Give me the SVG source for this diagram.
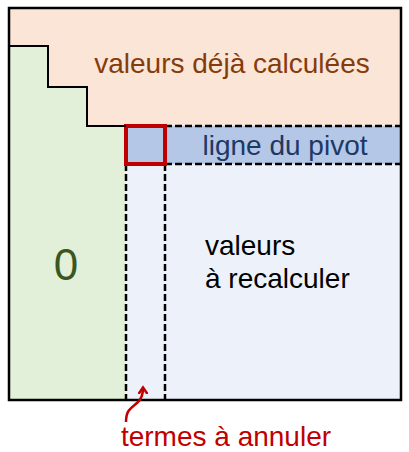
<svg xmlns="http://www.w3.org/2000/svg" width="409" height="452" viewBox="0 0 409 452">
<style>
text{font-family:"Liberation Sans",Arial,sans-serif;}
.dash{fill:none;stroke:#000;stroke-width:2.5;stroke-dasharray:7,3;}
</style>
<defs>
<marker id="ah" markerWidth="10" markerHeight="10" refX="6" refY="5" orient="auto" markerUnits="userSpaceOnUse">
<path d="M0,0.5 L6.5,5 L0,9.5" fill="none" stroke="#c00000" stroke-width="2.5"/>
</marker>
</defs>
<rect width="409" height="452" fill="#fff"/>
<g id="computed">
<path d="M9,8 H401 V126 H87 V87 H48 V46 H9 Z" fill="#fbe5d6"/>
<text x="232" y="73" font-size="28" fill="#843c0c" text-anchor="middle">valeurs déjà calculées</text>
</g>
<g id="zero">
<path d="M9,46 H48 V87 H87 V126 H126 V400 H9 Z" fill="#e2efd9"/>
<text x="66" y="280" font-size="44" fill="#385723" text-anchor="middle">0</text>
</g>
<g id="recalc">
<rect x="126" y="164" width="275" height="236" fill="#edf1f9"/>
<text x="205" y="255" font-size="28" fill="#000">valeurs</text>
<text x="205" y="288" font-size="28" fill="#000">à recalculer</text>
</g>
<g id="pivot-row">
<rect x="126" y="126" width="275" height="38" fill="#b4c7e7"/>
<path class="dash" d="M165,126 H401 M165,164 H401"/>
<text x="285" y="155" font-size="28" fill="#203864" text-anchor="middle">ligne du pivot</text>
</g>
<g id="column">
<path class="dash" d="M126,164 V400 M165,164 V400"/>
</g>
<g id="pivot">
<rect x="126" y="126" width="39" height="38" fill="none" stroke="#c00000" stroke-width="4"/>
</g>
<g id="frame">
<path d="M9,46 H48 V87 H87 V126 H126" fill="none" stroke="#000" stroke-width="2"/>
<rect x="9" y="8" width="392" height="392" fill="none" stroke="#000" stroke-width="2.5"/>
</g>
<g id="connectors">
<path d="M126,422 C126,410 131,408 137,403 C142,399 143,394 143,388" fill="none" stroke="#c00000" stroke-width="2.5" marker-end="url(#ah)"/>
</g>
<g id="label">
<text x="226" y="446" font-size="28" fill="#c00000" text-anchor="middle">termes à annuler</text>
</g>
</svg>
